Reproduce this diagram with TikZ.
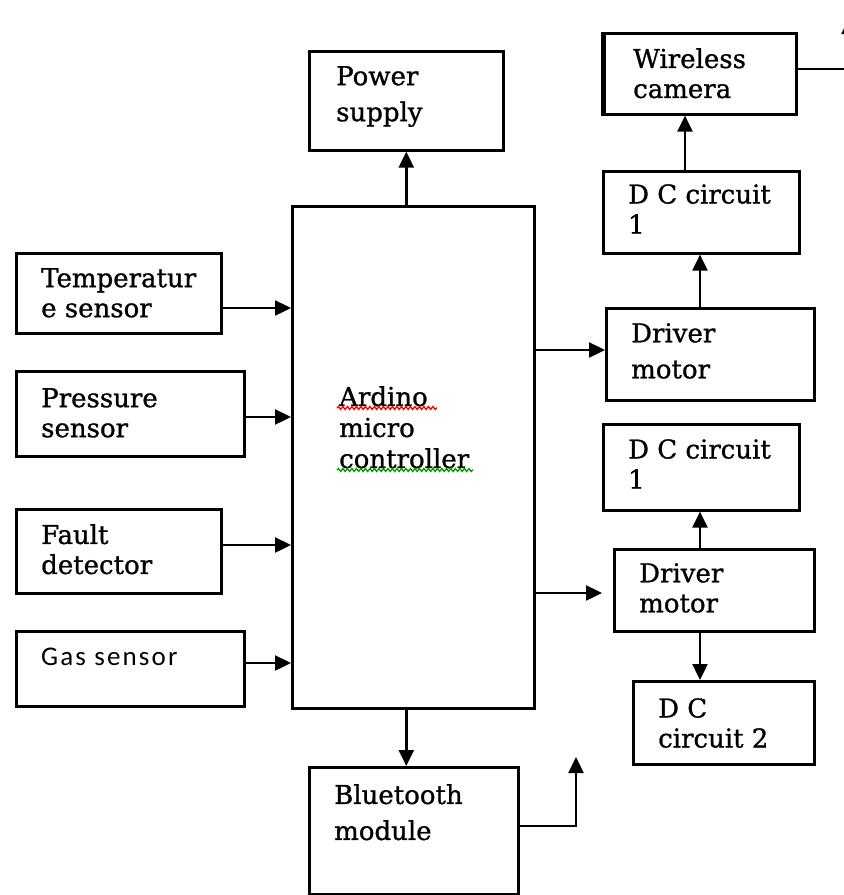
\documentclass[tikz,border=0pt]{standalone}
\usepackage{fontspec}
\setmainfont[FakeBold=1]{DejaVu Serif}
\newfontfamily\gasfont[LetterSpace=8]{Carlito}
\usetikzlibrary{arrows.meta,decorations.pathmorphing}

\begin{document}
\begin{tikzpicture}[
                            x=1pt, y=-1pt,
                            >={Triangle[length=16pt,width=15pt]},
                            line width=2.4pt,
                            blk/.style={rectangle, draw, line width=2.6pt, anchor=north west, inner sep=0pt},
                            txt/.style={anchor=north west, inner sep=0pt, align=left, xshift=25pt, yshift=-15pt, font=\fontsize{26}{30}\selectfont},
                            loose/.style={font=\fontsize{26}{36}\selectfont},
                            squiggle/.style={line width=1.3pt, decorate, decoration={snake, amplitude=1.5pt, segment length=4.5pt}}
                        ]
                        \useasboundingbox (0,0) rectangle (844,895);
                        % Blocks
                        \node [blk, minimum width=194pt, minimum height=99pt, label={[txt,loose,xshift=2pt]north west:Power\\supply}] (power) at (308,50) {};
                        \node [blk, minimum width=242pt, minimum height=502pt, label={[txt,xshift=22pt,yshift=-165pt,font=\fontsize{26}{31}\selectfont]north west:Ardino\\micro\\controller}] (mcu) at (291,205) {};
                        \node [blk, minimum width=205pt, minimum height=80pt, label={[txt]north west:Temperatur\\e sensor}] (temp) at (15,252) {};
                        \node [blk, minimum width=228pt, minimum height=85pt, label={[txt,yshift=-2pt]north west:Pressure\\sensor}] (pres) at (15,370) {};
                        \node [blk, minimum width=205pt, minimum height=84pt, label={[txt]north west:Fault\\detector}] (fault) at (15,508) {};
                        \node [blk, minimum width=228pt, minimum height=75pt, label={[txt,yshift=-2pt,font=\gasfont\fontsize{27}{30}\selectfont]north west:Gas sensor}] (gas) at (15,630) {};
                        \node [blk, minimum width=209pt, minimum height=127pt, label={[txt,loose,yshift=-2pt]north west:Bluetooth\\module}] (bt) at (308,766) {};
                        \node [blk, minimum width=192pt, minimum height=81pt, label={[txt,xshift=4pt]north west:Wireless\\camera}] (cam) at (603,32) {};
                        \node [blk, minimum width=196pt, minimum height=82pt, label={[txt,yshift=2pt]north west:D C circuit\\1}] (dca) at (602,170) {};
                        \node [blk, minimum width=208pt, minimum height=92pt, label={[txt,loose]north west:Driver\\motor}] (drva) at (605,307) {};
                        \node [blk, minimum width=196pt, minimum height=86pt, label={[txt]north west:D C circuit\\1}] (dcb) at (602,423) {};
                        \node [blk, minimum width=200pt, minimum height=82pt, label={[txt,yshift=1pt]north west:Driver\\motor}] (drvb) at (613,548) {};
                        \node [blk, minimum width=181pt, minimum height=83pt, label={[txt,yshift=-2pt]north west:D C\\circuit 2}] (dcc) at (632,680) {};
                        \coordinate (drvbin) at (602,593);
                        \coordinate (btout) at (576,757);
                        \coordinate (camout) at (849,18);

                        % thick left edge of the camera block
                        \draw [line width=5pt] (cam.north west) -- (cam.south west);

                        % spell-check marks
                        \draw [squiggle, red] (337,408) -- (437,408);
                        \draw [squiggle, green!60!black] (337,470) -- (473,470);

                        % Connections
                        \draw [->] (power.south |- mcu.north) -- (power.south);
                        \draw [->] (power.south |- mcu.south) -- (power.south |- bt.north);
                        \draw [->] (temp.east |- 0,308) -- (mcu.west |- 0,308);
                        \draw [->] (pres.east |- 0,417) -- (mcu.west |- 0,417);
                        \draw [->] (fault.east |- 0,545) -- (mcu.west |- 0,545);
                        \draw [->] (gas.east |- 0,663) -- (mcu.west |- 0,663);
                        \draw [->] (mcu.east |- 0,350) -- (drva.west |- 0,350);
                        \draw [->] (mcu.east |- drvbin) -- (drvbin);
                        \draw [->] (drva.north -| 700,0) -- (dca.south -| 700,0);
                        \draw [->] (dca.north -| 685,0) -- (cam.south -| 685,0);
                        \draw [->] (drvb.north -| 700,0) -- (dcb.south -| 700,0);
                        \draw [->] (drvb.south -| 700,0) -- (dcc.north -| 700,0);
                        \draw [->] (bt.east |- 0,826) -| (btout);
                        \draw [->] (cam.east |- 0,69) -| (camout);
                    \end{tikzpicture}
\end{document}
